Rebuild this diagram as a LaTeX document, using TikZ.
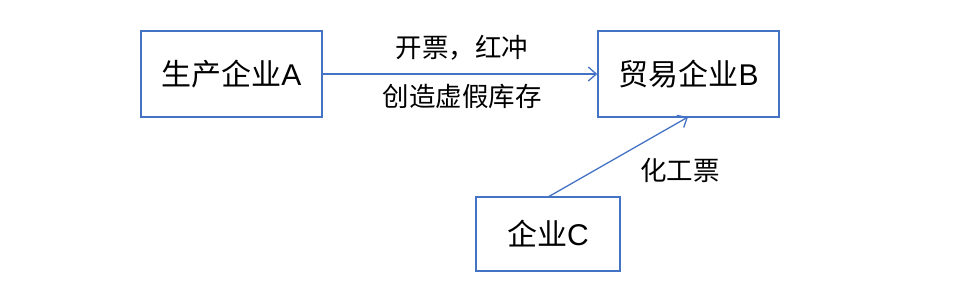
\documentclass[tikz,border=0pt]{standalone}
\usepackage{fontspec}
\setmainfont{Liberation Sans}
\newfontfamily\cjk{Noto Sans CJK SC}[Scale=1]
\usetikzlibrary{arrows.meta}
\definecolor{boxblue}{HTML}{4472C4}
\begin{document}
\begin{tikzpicture}[x=1pt,y=-1pt,
  entbox/.style={draw=boxblue,line width=1.5pt,inner sep=0pt,font=\fontsize{30}{33}\selectfont},
  lbl/.style={font=\fontsize{26.5}{29}\selectfont\cjk,inner sep=0pt},
  conn/.style={draw=boxblue,line width=1.3pt,-{Straight Barb[length=8pt,width=14pt,line width=1.3pt]}}]
\useasboundingbox (0,0) rectangle (972,292);
\node[entbox,minimum width=181pt,minimum height=86pt] (A) at (231.5,74) {{\cjk 生产企业}A};
\node[entbox,minimum width=181pt,minimum height=86pt] (B) at (688.5,74) {{\cjk 贸易企业}B};
\node[entbox,minimum width=144pt,minimum height=74pt] (C) at (548,234) {{\cjk 企业}C};
\coordinate (Cs) at (548,197);
\coordinate (Be) at (688,117);
\draw[conn] (A.east) -- (B.west);
\draw[conn] (Cs) -- (Be);
\node[lbl] (l1) at (462,48) {开票，红冲};
\node[lbl] (l2) at (462,96) {创造虚假库存};
\node[lbl] (l3) at (680,170) {化工票};
\end{tikzpicture}
\end{document}
